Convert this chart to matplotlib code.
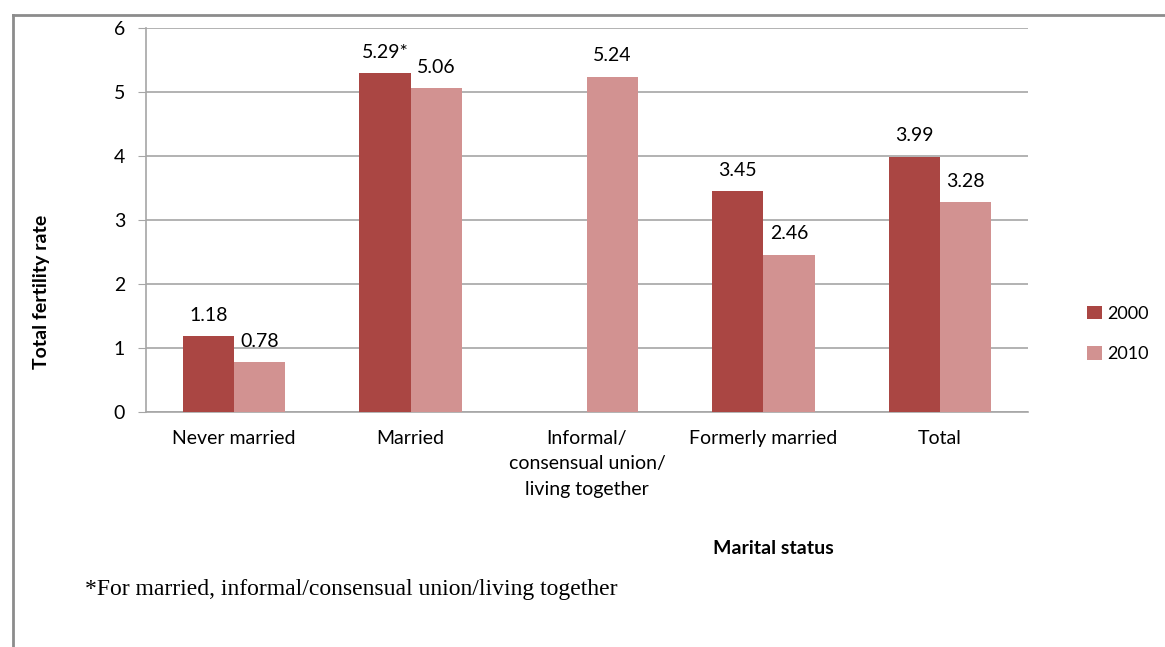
import matplotlib.pyplot as plt
import numpy as np
from matplotlib.lines import Line2D

# data
categories = ['Never married', 'Married', 'Informal/\nconsensual union/\nliving together',
              'Formerly married', 'Total']
tfr_2000 = [1.18, 5.29, np.nan, 3.45, 3.99]
tfr_2010 = [0.78, 5.06, 5.24, 2.46, 3.28]
labels_2000 = ['1.18', '5.29*', '', '3.45', '3.99']
labels_2010 = ['0.78', '5.06', '5.24', '2.46', '3.28']
years = ['2000', '2010']
colors = ['#AA4643', '#D29291']

plt.rcParams['font.family'] = ['Lato', 'DejaVu Sans']

fig = plt.figure(figsize=(11.65, 6.47), dpi=100)
ax = fig.add_axes([146/1165, 1 - 412/647, (1028 - 146)/1165, (412 - 28)/647])

x = np.arange(len(categories))
width = 0.29
b1 = ax.bar(x - width/2, tfr_2000, width, color=colors[0], label=years[0], zorder=3)
b2 = ax.bar(x + width/2, tfr_2010, width, color=colors[1], label=years[1], zorder=3)

for i in range(len(categories)):
    if not np.isnan(tfr_2000[i]):
        ax.annotate(labels_2000[i], (x[i] - width/2, tfr_2000[i]), xytext=(0, 9),
                    textcoords='offset points', ha='center', va='bottom', fontsize=14)
    ax.annotate(labels_2010[i], (x[i] + width/2, tfr_2010[i]), xytext=(0, 9),
                textcoords='offset points', ha='center', va='bottom', fontsize=14)

ax.set_xlim(-0.5, len(categories) - 0.5)
ax.set_ylim(0, 6)
ax.set_yticks(range(0, 7))
ax.yaxis.grid(True, color='#A6A6A6', linewidth=1.2, zorder=0)
ax.set_axisbelow(True)
ax.set_xticks(x)
ax.set_xticklabels(categories, fontsize=14, linespacing=1.6)
ax.tick_params(axis='x', length=0, pad=13)
ax.tick_params(axis='y', length=6, color='#A6A6A6', labelsize=14, pad=9)
for s in ['top', 'right']:
    ax.spines[s].set_visible(False)
for s in ['left', 'bottom']:
    ax.spines[s].set_color('#A6A6A6')
    ax.spines[s].set_linewidth(1.2)

fig.text(42/1165, 1 - 292/647, 'Total fertility rate', rotation=90, ha='center', va='center',
         fontsize=14, fontweight='bold')
fig.text(773/1165, 1 - 549/647, 'Marital status', ha='center', va='center',
         fontsize=14, fontweight='bold')
fig.text(85/1165, 1 - 590/647, '*For married, informal/consensual union/living together',
         ha='left', va='center', fontsize=17, family=['Liberation Serif'])

fig.legend(handles=[b1, b2], labels=years, loc='center left',
           bbox_to_anchor=(1080/1165, 1 - 334/647), frameon=False, fontsize=13,
           borderpad=0.2, borderaxespad=0.2,
           handlelength=0.8, handleheight=0.8, handletextpad=0.3, labelspacing=1.35)

# outer frame
fig.add_artist(Line2D([13/1165, 13/1165], [0, 1 - 15/647], transform=fig.transFigure,
                      color='#8C8C8C', linewidth=2))
fig.add_artist(Line2D([13/1165, 1], [1 - 15/647, 1 - 15/647], transform=fig.transFigure,
                      color='#8C8C8C', linewidth=2))

fig.savefig('out.png', dpi=100)
